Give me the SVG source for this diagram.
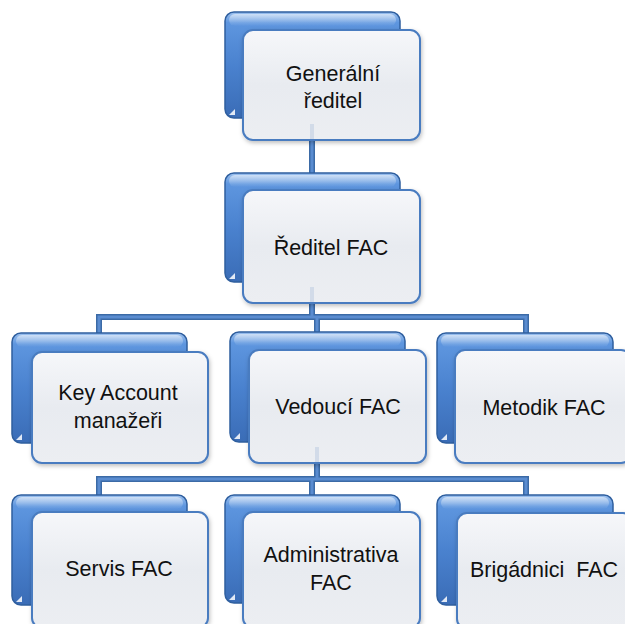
<svg xmlns="http://www.w3.org/2000/svg" width="625" height="624" viewBox="0 0 625 624">
<style>
.back{fill:url(#gBack);stroke:#2f5f9f;stroke-width:1.5}
.gloss{fill:url(#gGloss)}
.curl{fill:#ffffff;opacity:0.85}
.front{fill:url(#gFront);stroke:#4a7cc0;stroke-width:2}
.lbl{font-family:"Liberation Sans",Arial,sans-serif;font-size:21.5px;fill:#111;text-anchor:middle}
.conO{fill:none;stroke:#3b6aa6;stroke-width:6;stroke-linejoin:miter}
.conI{fill:none;stroke:#5a8cd0;stroke-width:3;stroke-linejoin:miter}
.ghost{stroke:#b4c6df;stroke-width:4;opacity:0.45}
</style>
<defs>
<linearGradient id="gBack" x1="0" y1="0" x2="0" y2="1">
<stop offset="0" stop-color="#9dc1ee"/>
<stop offset="0.1" stop-color="#5e96df"/>
<stop offset="0.5" stop-color="#4a82cf"/>
<stop offset="1" stop-color="#3a6cb6"/>
</linearGradient>
<linearGradient id="gGloss" x1="0" y1="0" x2="0" y2="1">
<stop offset="0" stop-color="#ffffff" stop-opacity="0.55"/>
<stop offset="1" stop-color="#ffffff" stop-opacity="0"/>
</linearGradient>
<linearGradient id="gFront" x1="0" y1="0" x2="0" y2="1">
<stop offset="0" stop-color="#f6f7fa"/>
<stop offset="0.5" stop-color="#e8ebf0"/>
<stop offset="1" stop-color="#eceef2"/>
</linearGradient>
<filter id="sh" x="-10%" y="-10%" width="130%" height="130%">
<feDropShadow dx="1" dy="2" stdDeviation="2" flood-color="#000" flood-opacity="0.25"/>
</filter>
</defs>

<g id="connectors">
<path class="conO" d="M312,140 V173 M312,303 V317 M99,333 V317 H526 V333 M317,317 V332 M317,463 V479 M99,495 V479 H526 V495 M312,479 V495"/>
<path class="conI" d="M312,140 V173 M312,303 V317 M99,333 V317 H526 V333 M317,317 V332 M317,463 V479 M99,495 V479 H526 V495 M312,479 V495"/>
</g>

<g id="n-generalni">
<rect class="back" x="225" y="12" width="175" height="106" rx="9"/>
<rect class="gloss" x="229" y="14" width="167" height="12" rx="6"/>
<path class="curl" d="M229,115 H235 V109 Z"/>
<rect class="front" x="243" y="30" width="177" height="110" rx="10" filter="url(#sh)"/>
<line class="ghost" x1="312" y1="124" x2="312" y2="139"/>
<text class="lbl" x="333" y="81">Generální</text>
<text class="lbl" x="333" y="108">ředitel</text>
</g>

<g id="n-reditel">
<rect class="back" x="225" y="173" width="175" height="109" rx="9"/>
<rect class="gloss" x="229" y="175" width="167" height="12" rx="6"/>
<path class="curl" d="M229,279 H235 V273 Z"/>
<rect class="front" x="243" y="190" width="177" height="113" rx="10" filter="url(#sh)"/>
<line class="ghost" x1="312" y1="287" x2="312" y2="302"/>
<text class="lbl" x="331" y="255">Ředitel FAC</text>
</g>

<g id="n-key">
<rect class="back" x="12" y="333" width="175" height="110" rx="9"/>
<rect class="gloss" x="16" y="335" width="167" height="12" rx="6"/>
<path class="curl" d="M16,440 H22 V434 Z"/>
<rect class="front" x="32" y="352" width="176" height="111" rx="10" filter="url(#sh)"/>
<text class="lbl" x="118" y="400">Key Account</text>
<text class="lbl" x="118" y="428">manažeři</text>
</g>

<g id="n-vedouci">
<rect class="back" x="230" y="332" width="175" height="110" rx="9"/>
<rect class="gloss" x="234" y="334" width="167" height="12" rx="6"/>
<path class="curl" d="M234,439 H240 V433 Z"/>
<rect class="front" x="249" y="350" width="177" height="113" rx="10" filter="url(#sh)"/>
<line class="ghost" x1="317" y1="447" x2="317" y2="462"/>
<text class="lbl" x="338" y="414">Vedoucí FAC</text>
</g>

<g id="n-metodik">
<rect class="back" x="437" y="333" width="176" height="110" rx="9"/>
<rect class="gloss" x="441" y="335" width="168" height="12" rx="6"/>
<path class="curl" d="M441,440 H447 V434 Z"/>
<rect class="front" x="455" y="350" width="176" height="113" rx="10" filter="url(#sh)"/>
<text class="lbl" x="544" y="415">Metodik FAC</text>
</g>

<g id="n-servis">
<rect class="back" x="12" y="495" width="175" height="110" rx="9"/>
<rect class="gloss" x="16" y="497" width="167" height="12" rx="6"/>
<path class="curl" d="M16,602 H22 V596 Z"/>
<rect class="front" x="32" y="512" width="176" height="116" rx="10" filter="url(#sh)"/>
<text class="lbl" x="119" y="576">Servis FAC</text>
</g>

<g id="n-admin">
<rect class="back" x="225" y="495" width="175" height="108" rx="9"/>
<rect class="gloss" x="229" y="497" width="167" height="12" rx="6"/>
<path class="curl" d="M229,600 H235 V594 Z"/>
<rect class="front" x="243" y="512" width="177" height="116" rx="10" filter="url(#sh)"/>
<text class="lbl" x="331" y="562">Administrativa</text>
<text class="lbl" x="331" y="590">FAC</text>
</g>

<g id="n-brigadnici">
<rect class="back" x="437" y="495" width="176" height="110" rx="9"/>
<rect class="gloss" x="441" y="497" width="168" height="12" rx="6"/>
<path class="curl" d="M441,602 H447 V596 Z"/>
<rect class="front" x="457" y="513" width="176" height="116" rx="10" filter="url(#sh)"/>
<text class="lbl" x="544" y="577" xml:space="preserve">Brigádnici  FAC</text>
</g>
</svg>
